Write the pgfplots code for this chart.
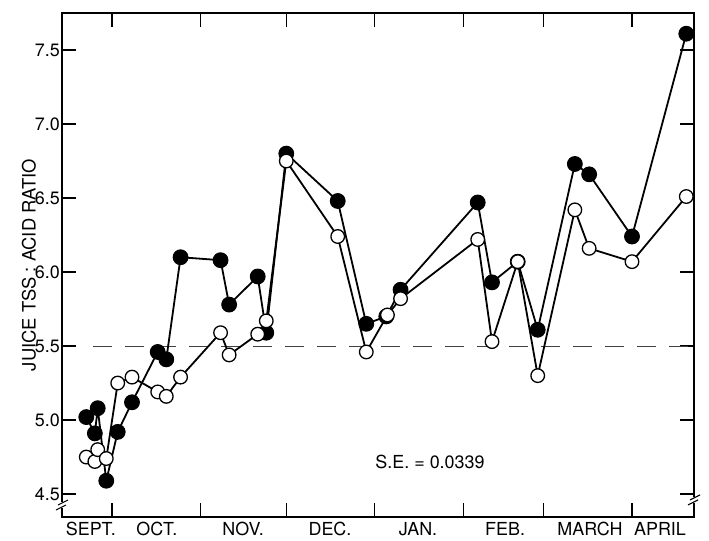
\documentclass[border=0pt]{standalone}
\usepackage{fontspec}
\setmainfont{TeX Gyre Heros}
\usepackage{pgfplots}
\usepackage{pgfplotstable}
\pgfplotsset{compat=1.18}

% x = days after 1 September
\pgfplotstableread{
day   ratio
21    5.02
24    4.91
25    5.08
28    4.59
32    4.92
37    5.12
46    5.46
49    5.41
54    6.10
68    6.08
71    5.78
81    5.97
84    5.59
91    6.80
109   6.48
119   5.65
126   5.70
131   5.88
158   6.47
163   5.93
172   6.07
179   5.61
192   6.73
197   6.66
212   6.24
231   7.61
}\filledtab

\pgfplotstableread{
day   ratio
21    4.75
24    4.72
25    4.80
28    4.74
32    5.25
37    5.29
46    5.19
49    5.16
54    5.29
68    5.59
71    5.44
81    5.58
84    5.67
91    6.75
109   6.24
119   5.46
126.4 5.71
131   5.82
158   6.22
163   5.53
172   6.07
179   5.30
192   6.42
197   6.16
212   6.07
231   6.51
}\opentab

\newcommand{\lab}{\fontsize{18}{21}\selectfont}

\begin{document}
\begin{tikzpicture}
\begin{axis}[
  scale only axis,
  width=632bp, height=504bp,
  xmin=12.5, xmax=233.7,
  ymin=4.345, ymax=7.75,
  clip=false,
  axis line style={line width=1.3bp},
  tick style={line width=1.2bp, black},
  major tick length=14bp,
  tick align=inside,
  xtick={30,61,91,122,153,181,212},
  xticklabels={},
  extra x ticks={22.6,45.7,75.9,106.3,137.1,167.6,197.3,221.8},
  extra x tick labels={SEPT.,OCT.,NOV.,DEC.,JAN.,FEB.,MARCH,APRIL},
  extra x tick style={major tick length=0pt, xticklabel pos=bottom,
    xticklabel style={anchor=north, inner sep=0pt, yshift=-5bp}},
  ytick={4.5,5.0,5.5,6.0,6.5,7.0,7.5},
  yticklabel style={/pgf/number format/fixed, /pgf/number format/fixed zerofill,
    /pgf/number format/precision=1, inner sep=2bp},
  /pgf/number format/assume math mode=true,
  tick label style={font=\lab},
  ylabel={JUICE TSS : ACID RATIO},
  y label style={font=\fontsize{18.5}{21}\selectfont, at={(axis description cs:0,0.50)}, yshift=33bp, anchor=center},
]
% reference line at 5.5
\addplot[black!75, line width=0.8bp, dash pattern=on 19bp off 13bp, forget plot]
  coordinates {(23.3,5.5) (233.7,5.5)};

\addplot[black, line width=1.8bp, mark=*, mark size=7.4bp,
  mark options={fill=black, line width=1bp}] table[x=day, y=ratio] {\filledtab};
\addplot[black, line width=1.8bp, mark=*, mark size=6.8bp,
  mark options={fill=white, line width=1.3bp}] table[x=day, y=ratio] {\opentab};

\node[font=\lab] at (axis cs:141.3,4.72) {S.E. = 0.0339};

% axis breaks
\fill[white] (axis cs:12.5,4.426) ++(-2bp,-3bp) rectangle ++(4bp,6bp);
\draw[line width=1.1bp] (axis cs:12.5,4.426) ++(-6bp,-5bp) -- ++(10bp,5bp);
\draw[line width=1.1bp] (axis cs:12.5,4.426) ++(-4bp,0bp) -- ++(10bp,5bp);
\fill[white] (axis cs:233.7,4.46) ++(-2bp,-3bp) rectangle ++(4bp,6bp);
\draw[line width=1.1bp] (axis cs:233.7,4.46) ++(-6bp,-5bp) -- ++(10bp,5bp);
\draw[line width=1.1bp] (axis cs:233.7,4.46) ++(-4bp,0bp) -- ++(10bp,5bp);
\end{axis}
\pgfresetboundingbox
\path ([shift={(-62bp,-24bp)}]current axis.south west) rectangle ([shift={(15bp,13bp)}]current axis.north east);
\end{tikzpicture}
\end{document}
